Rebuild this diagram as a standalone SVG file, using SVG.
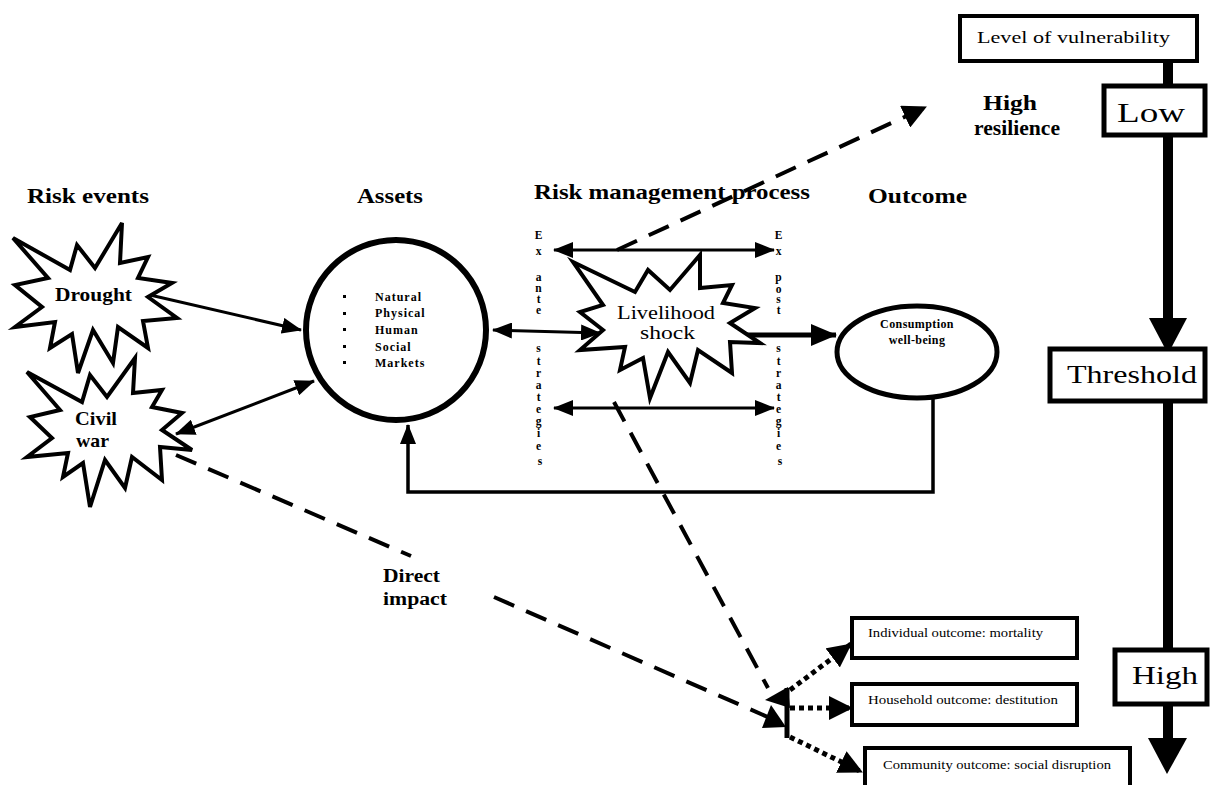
<svg xmlns="http://www.w3.org/2000/svg" width="1216" height="785" viewBox="0 0 1216 785">
  <style>
    .t { font-family: "Liberation Serif", "DejaVu Serif", serif; fill: #000; }
    .h { font-weight: bold; font-size: 21px; }
    .burst { fill: #fff; stroke: #000; stroke-width: 4; stroke-linejoin: miter; }
    .box { fill: #fff; stroke: #000; }
    .ln { fill: none; stroke: #000; stroke-width: 3; }
    .dash { fill: none; stroke: #000; stroke-width: 4; stroke-dasharray: 22 13; }
    .dot { fill: none; stroke: #000; stroke-width: 5; stroke-dasharray: 5 4; }
    .vt { font-weight: bold; font-size: 11.5px; text-anchor: middle; }
    .sm { font-size: 12px; font-weight: bold; letter-spacing: 1px; }
    .cw { font-size: 12px; font-weight: bold; letter-spacing: 0.4px; }
    .ob { font-size: 12px; }
  </style>
  <defs>
    <marker id="arr" viewBox="0 0 20 16" refX="19" refY="8" markerWidth="20" markerHeight="16" markerUnits="userSpaceOnUse" orient="auto-start-reverse">
      <path d="M0,0 L20,8 L0,16 Z" fill="#000"/>
    </marker>
    <marker id="arrL" viewBox="0 0 26 22" refX="25" refY="11" markerWidth="26" markerHeight="22" markerUnits="userSpaceOnUse" orient="auto">
      <path d="M0,0 L26,11 L0,22 Z" fill="#000"/>
    </marker>
    <marker id="arrD" viewBox="0 0 24 24" refX="23" refY="12" markerWidth="24" markerHeight="24" markerUnits="userSpaceOnUse" orient="auto">
      <path d="M0,0 L24,12 L0,24 Z" fill="#000"/>
    </marker>
  </defs>

  <rect width="1216" height="785" fill="#fff"/>

  <!-- column headings -->
  <g id="headings">
    <text class="t h" x="27" y="203" textLength="122" lengthAdjust="spacingAndGlyphs">Risk events</text>
    <text class="t h" x="357" y="203" textLength="66" lengthAdjust="spacingAndGlyphs">Assets</text>
    <text class="t h" x="534" y="199" textLength="276" lengthAdjust="spacingAndGlyphs">Risk management process</text>
    <text class="t h" x="868" y="203" textLength="99" lengthAdjust="spacingAndGlyphs">Outcome</text>
  </g>

  <!-- connectors -->
  <g id="connectors">
    <!-- solid arrows -->
    <path class="ln" d="M150,295 L301,330" marker-end="url(#arr)"/>
    <path class="ln" d="M176,434 L314,381" marker-start="url(#arr)" marker-end="url(#arr)"/>
    <path class="ln" d="M493,330 L600,333" marker-start="url(#arr)" marker-end="url(#arr)"/>
    <path class="ln" d="M554,250 L774,250" marker-start="url(#arr)" marker-end="url(#arr)"/>
    <path class="ln" d="M554,408 L774,408" marker-start="url(#arr)" marker-end="url(#arr)"/>
    <path fill="none" stroke="#000" stroke-width="5" d="M745,335 L836,335" marker-end="url(#arrL)"/>
    <!-- feedback from outcome back to assets -->
    <path fill="none" stroke="#000" stroke-width="3.5" d="M933,393 L933,492 L408,492 L408,425" marker-end="url(#arr)"/>

    <!-- dashed influences -->
    <path class="dash" d="M617,250 L926,107" marker-end="url(#arrD)"/>
    <path class="dash" d="M614,402 L768,688"/>
    <path class="dash" d="M176,455 L411,556"/>
    <path class="dash" d="M494,597 L770,718"/>
    <polygon points="765,700 788,687 790,708" fill="#000"/>
    <polygon points="762,728 771,705 786,727" fill="#000"/>

    <!-- branch to outcome boxes -->
    <path fill="none" stroke="#000" stroke-width="5" d="M787,688 L787,738"/>
    <path class="dot" d="M790,690 L851,644" marker-end="url(#arrD)"/>
    <path class="dot" d="M790,708 L852,708" marker-end="url(#arrD)"/>
    <path class="dot" d="M790,737 L862,772" marker-end="url(#arrD)"/>

    <!-- vulnerability scale -->
    <g fill="none" stroke="#000" stroke-width="10">
      <path d="M1168,60 L1168,87"/>
      <path d="M1168,133 L1168,320"/>
      <path d="M1168,400 L1168,652"/>
      <path d="M1168,702 L1168,740"/>
    </g>
    <polygon points="1149,318 1187,318 1168,354" fill="#000"/>
    <polygon points="1148,738 1187,738 1167,774" fill="#000"/>
  </g>

  <!-- risk events -->
  <g id="drought">
    <path class="burst" d="M13,238 L70,270 L77,245 L95,268 L122,223 L120,263 L148,257 L138,278 L172,283 L148,297 L177,318 L143,321 L148,348 L118,327 L113,363 L93,330 L78,373 L72,334 L50,348 L55,322 L15,327 L42,307 L15,285 L48,278 Z"/>
    <text class="t" x="55" y="301" font-size="19" font-weight="bold" textLength="77" lengthAdjust="spacingAndGlyphs">Drought</text>
  </g>
  <g id="civil-war">
    <path class="burst" d="M27,372 L82,402 L90,375 L107,397 L135,358 L133,393 L162,390 L152,407 L182,413 L162,430 L192,450 L160,447 L162,480 L132,457 L125,488 L105,460 L90,507 L83,463 L63,477 L68,453 L27,457 L52,438 L30,417 L60,410 Z"/>
    <text class="t" x="75" y="425" font-size="19" font-weight="bold" textLength="42" lengthAdjust="spacingAndGlyphs">Civil</text>
    <text class="t" x="76" y="447" font-size="19" font-weight="bold" textLength="33" lengthAdjust="spacingAndGlyphs">war</text>
  </g>

  <!-- assets -->
  <g id="assets">
    <circle cx="396" cy="330" r="90" fill="#fff" stroke="#000" stroke-width="6"/>
    <g fill="#000">
      <rect x="343" y="295" width="3" height="3"/>
      <rect x="343" y="312" width="3" height="3"/>
      <rect x="343" y="328" width="3" height="3"/>
      <rect x="343" y="345" width="3" height="3"/>
      <rect x="343" y="361" width="3" height="3"/>
    </g>
    <text class="t sm" x="375" y="301">Natural</text>
    <text class="t sm" x="375" y="317">Physical</text>
    <text class="t sm" x="375" y="334">Human</text>
    <text class="t sm" x="375" y="351">Social</text>
    <text class="t sm" x="375" y="367">Markets</text>
  </g>

  <!-- risk management process -->
  <g id="ex-ante">
    <text class="t vt">
      <tspan x="540" y="239">E</tspan>
      <tspan x="540" y="255">x</tspan>
      <tspan x="540" y="281">a</tspan>
      <tspan x="540" y="292">n</tspan>
      <tspan x="540" y="303">t</tspan>
      <tspan x="540" y="314">e</tspan>
      <tspan x="540" y="352">s</tspan>
      <tspan x="540" y="365">t</tspan>
      <tspan x="540" y="377">r</tspan>
      <tspan x="540" y="389">a</tspan>
      <tspan x="540" y="401">t</tspan>
      <tspan x="540" y="413">e</tspan>
      <tspan x="540" y="425">g</tspan>
      <tspan x="540" y="437">i</tspan>
      <tspan x="540" y="450">e</tspan>
      <tspan x="540" y="465">s</tspan>
    </text>
  </g>
  <g id="ex-post">
    <text class="t vt">
      <tspan x="780" y="239">E</tspan>
      <tspan x="780" y="255">x</tspan>
      <tspan x="780" y="281">p</tspan>
      <tspan x="780" y="293">o</tspan>
      <tspan x="780" y="303">s</tspan>
      <tspan x="780" y="314">t</tspan>
      <tspan x="780" y="352">s</tspan>
      <tspan x="780" y="365">t</tspan>
      <tspan x="780" y="377">r</tspan>
      <tspan x="780" y="389">a</tspan>
      <tspan x="780" y="401">t</tspan>
      <tspan x="780" y="413">e</tspan>
      <tspan x="780" y="425">g</tspan>
      <tspan x="780" y="437">i</tspan>
      <tspan x="780" y="450">e</tspan>
      <tspan x="780" y="465">s</tspan>
    </text>
  </g>
  <g id="livelihood-shock">
    <path class="burst" d="M573,262 L635,292 L648,270 L670,290 L700,255 L700,288 L732,285 L723,303 L755,308 L730,323 L760,343 L730,342 L732,373 L698,350 L690,383 L668,352 L650,398 L643,358 L620,370 L625,347 L580,350 L603,330 L580,312 L603,305 Z"/>
    <text class="t" x="617" y="319" font-size="19" textLength="98" lengthAdjust="spacingAndGlyphs">Livelihood</text>
    <text class="t" x="640" y="339" font-size="19" textLength="55" lengthAdjust="spacingAndGlyphs">shock</text>
  </g>

  <!-- outcome -->
  <g id="consumption">
    <ellipse cx="917" cy="352" rx="80" ry="46" fill="#fff" stroke="#000" stroke-width="5"/>
    <text class="t cw" x="917" y="328" text-anchor="middle">Consumption</text>
    <text class="t cw" x="917" y="344" text-anchor="middle">well-being</text>
  </g>

  <g id="direct-impact">
    <text class="t" x="383" y="582" font-size="18" font-weight="bold" textLength="57" lengthAdjust="spacingAndGlyphs">Direct</text>
    <text class="t" x="383" y="605" font-size="18" font-weight="bold" textLength="64" lengthAdjust="spacingAndGlyphs">impact</text>
  </g>

  <g id="high-resilience">
    <text class="t" x="983" y="110" font-size="20" font-weight="bold" textLength="54" lengthAdjust="spacingAndGlyphs">High</text>
    <text class="t" x="974" y="135" font-size="20" font-weight="bold" textLength="86" lengthAdjust="spacingAndGlyphs">resilience</text>
  </g>

  <!-- outcome boxes -->
  <g id="individual-outcome">
    <rect class="box" x="852" y="618" width="225" height="40" stroke-width="4"/>
    <text class="t ob" x="868" y="637" textLength="175" lengthAdjust="spacingAndGlyphs">Individual outcome: mortality</text>
  </g>
  <g id="household-outcome">
    <rect class="box" x="852" y="684" width="225" height="41" stroke-width="4"/>
    <text class="t ob" x="868" y="704" textLength="190" lengthAdjust="spacingAndGlyphs">Household outcome: destitution</text>
  </g>
  <g id="community-outcome">
    <rect class="box" x="865" y="748" width="265" height="50" stroke-width="4"/>
    <text class="t ob" x="883" y="769" textLength="228" lengthAdjust="spacingAndGlyphs">Community outcome: social disruption</text>
  </g>

  <!-- vulnerability scale boxes -->
  <g id="level-of-vulnerability">
    <rect class="box" x="960" y="16" width="237" height="45" stroke-width="4"/>
    <text class="t" x="977" y="43" font-size="17" textLength="193" lengthAdjust="spacingAndGlyphs">Level of vulnerability</text>
  </g>
  <g id="low">
    <rect class="box" x="1104" y="86" width="101" height="49" stroke-width="5"/>
    <text class="t" x="1117" y="122" font-size="28" textLength="68" lengthAdjust="spacingAndGlyphs">Low</text>
  </g>
  <g id="threshold">
    <rect class="box" x="1050" y="349" width="155" height="52" stroke-width="5"/>
    <text class="t" x="1067" y="383" font-size="26" textLength="130" lengthAdjust="spacingAndGlyphs">Threshold</text>
  </g>
  <g id="high">
    <rect class="box" x="1115" y="650" width="92" height="54" stroke-width="5"/>
    <text class="t" x="1132" y="684" font-size="26" textLength="66" lengthAdjust="spacingAndGlyphs">High</text>
  </g>
</svg>
